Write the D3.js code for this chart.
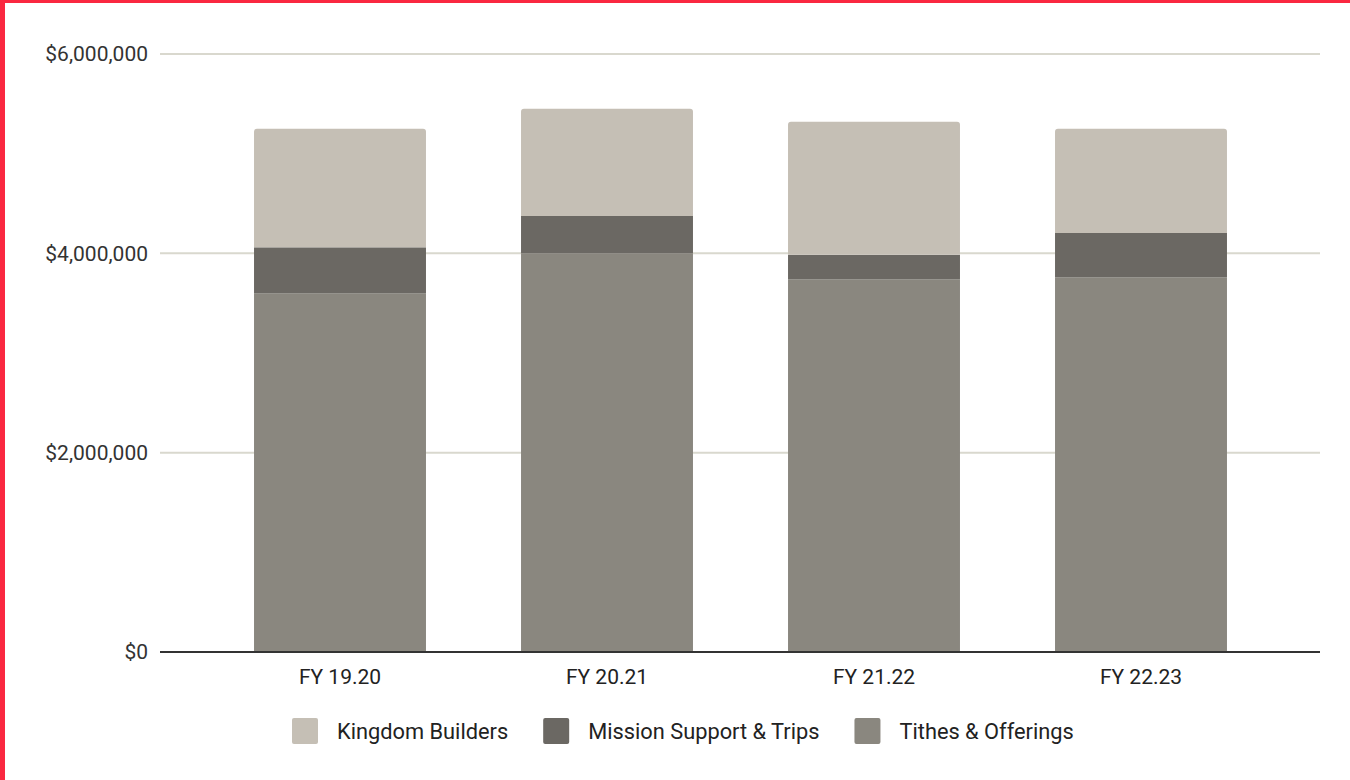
<!DOCTYPE html>
<html><head><meta charset="utf-8">
<script src="https://cdn.jsdelivr.net/npm/d3@7"></script>
<style>
html,body{margin:0;padding:0;background:#fff;}
svg{display:block;font-family:Roboto,"Noto Sans",sans-serif;}
</style></head>
<body>
<svg id="chart" width="1350" height="780"></svg>
<script>
const categories = ["FY 19.20","FY 20.21","FY 21.22","FY 22.23"];
const seriesNames = ["Tithes & Offerings","Mission Support & Trips","Kingdom Builders"];
const tithes = [3600000, 4000000, 3740000, 3760000];
const mission = [460000, 375000, 245000, 445000];
const kingdom = [1190000, 1075000, 1335000, 1045000];
const yTicks = [0, 2000000, 4000000, 6000000];
const legendOrder = ["Kingdom Builders","Mission Support & Trips","Tithes & Offerings"];
const colors = {"Kingdom Builders":"#c5bfb5","Mission Support & Trips":"#6b6863","Tithes & Offerings":"#8a877f"};

const svg = d3.select("#chart");
svg.append("rect").attr("width",1350).attr("height",780).attr("fill","#fff");
// red frame
svg.append("rect").attr("x",0).attr("y",0).attr("width",5).attr("height",780).attr("fill","#fa2840");
svg.append("rect").attr("x",0).attr("y",0).attr("width",1350).attr("height",3).attr("fill","#fa2840");

const rows = categories.map((c,i)=>({cat:c,"Tithes & Offerings":tithes[i],"Mission Support & Trips":mission[i],"Kingdom Builders":kingdom[i]}));
const stacked = d3.stack().keys(seriesNames)(rows);

const y = d3.scaleLinear().domain([0,6000000]).range([652,54]);
const x = d3.scaleBand().domain(categories).range([206.5,1274.5]).paddingInner(0.356).paddingOuter(0.178);

// gridlines
svg.append("g").selectAll("line").data(yTicks.filter(t=>t>0)).join("line")
  .attr("x1",160).attr("x2",1320).attr("y1",d=>y(d)).attr("y2",d=>y(d))
  .attr("stroke","#d9d8ce").attr("stroke-width",2);

// y axis labels
const fmt = d => "$" + d3.format(",")(d);
const yAxis = d3.axisLeft(y).tickValues(yTicks).tickFormat(fmt).tickSize(0).tickPadding(0);
const ga = svg.append("g").attr("transform","translate(148,0)").call(yAxis);
ga.select(".domain").remove();
ga.selectAll("text").attr("font-size",21).attr("fill","#333").attr("font-family","Roboto");

// bars
const topKey = seriesNames[seriesNames.length-1];
svg.append("g").selectAll("g").data(stacked).join("g")
  .attr("fill",d=>colors[d.key])
  .each(function(s){
    const g = d3.select(this);
    s.forEach(d=>{
      const x0 = x(d.data.cat), w = x.bandwidth();
      const yt = y(d[1]), yb = y(d[0]);
      if(s.key===topKey){
        const r=3;
        g.append("path").attr("d",
          `M${x0},${yb}L${x0},${yt+r}Q${x0},${yt} ${x0+r},${yt}L${x0+w-r},${yt}Q${x0+w},${yt} ${x0+w},${yt+r}L${x0+w},${yb}Z`);
      } else {
        g.append("rect").attr("x",x0).attr("y",yt).attr("width",w).attr("height",yb-yt);
      }
    });
  });

// baseline
svg.append("line").attr("x1",160).attr("x2",1320).attr("y1",y(0)).attr("y2",y(0))
  .attr("stroke","#333").attr("stroke-width",2);

// x axis labels
const xAxis = d3.axisBottom(x).tickSize(0).tickPadding(0);
const gx = svg.append("g").attr("transform","translate(0,669)").call(xAxis);
gx.select(".domain").remove();
gx.selectAll("text").attr("font-size",21).attr("fill","#222").attr("font-family","Roboto").attr("dy","0.3em").attr("y",9);

// legend
const lg = svg.append("g");
let lx = 292;
legendOrder.forEach(name=>{
  lg.append("rect").attr("x",lx).attr("y",718).attr("width",26).attr("height",26).attr("rx",2).attr("fill",colors[name]);
  const t = lg.append("text").attr("x",lx+45).attr("y",731).attr("dy","0.35em")
    .attr("font-size",21.8).attr("fill","#222").attr("font-family","Roboto").text(name);
  const w = t.node().getComputedTextLength();
  lx = lx + 45 + w + 35;
});
</script>
</body></html>
